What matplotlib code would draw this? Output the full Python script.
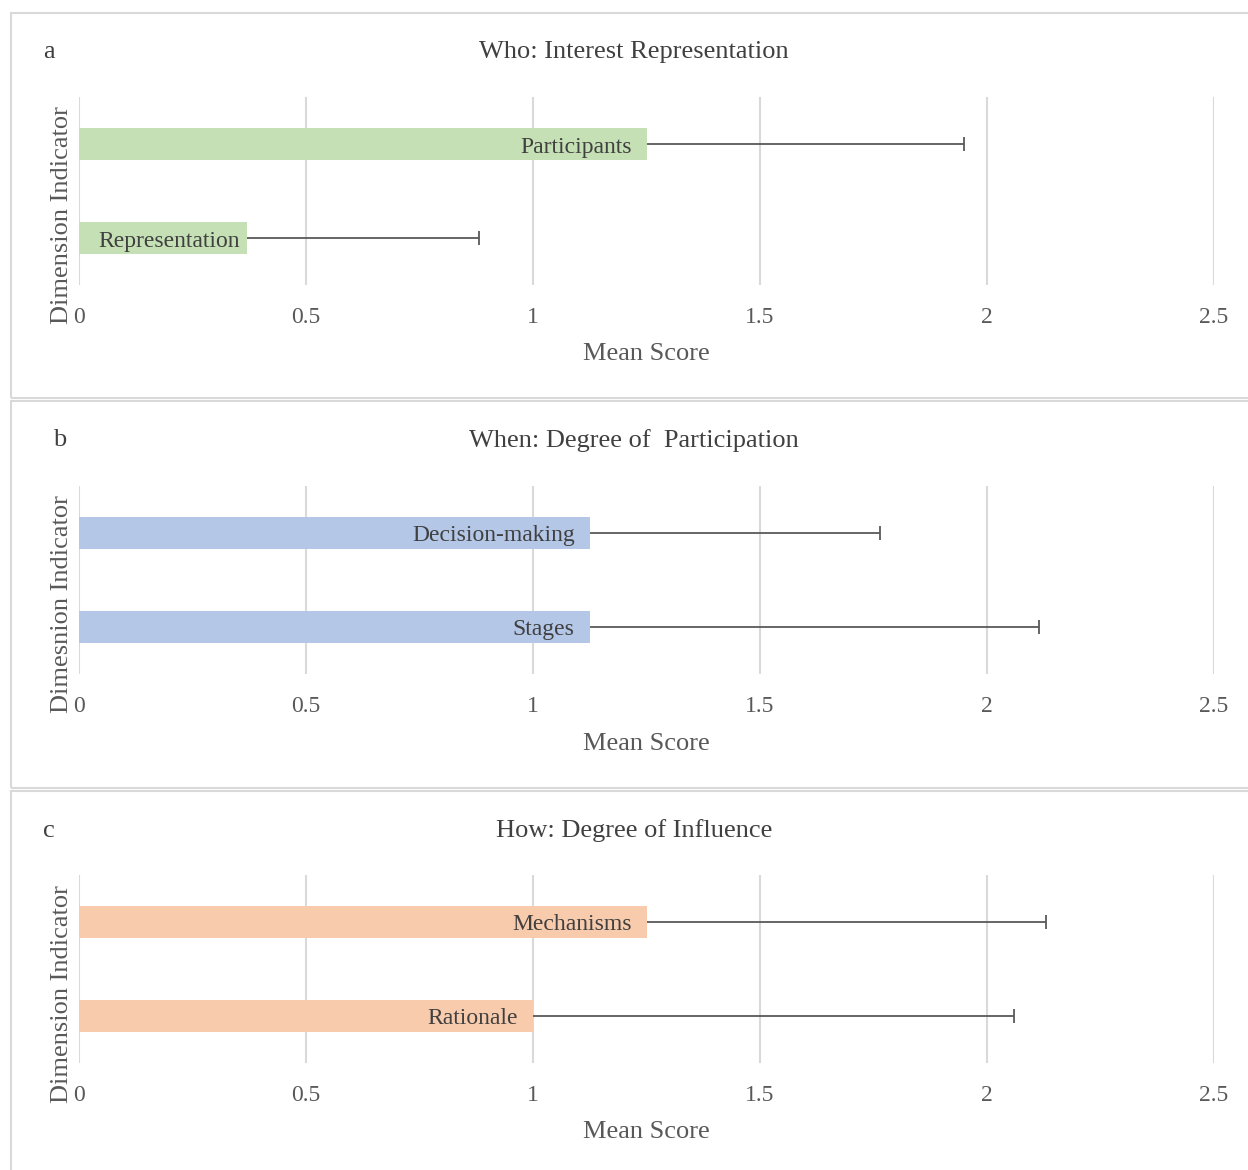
import matplotlib
matplotlib.use("Agg")
import matplotlib.pyplot as plt
from matplotlib.patches import Rectangle
from matplotlib.transforms import offset_copy

plt.rcParams['font.family'] = ['Liberation Serif', 'DejaVu Serif']

# panel data (top bar first)
panel_letters = ["a", "b", "c"]
panel_titles = ["Who: Interest Representation",
                "When: Degree of  Participation",
                "How: Degree of Influence"]
y_labels = ["Dimension Indicator", "Dimesnion Indicator", "Dimension Indicator"]
categories_a = ["Participants", "Representation"]
means_a = [1.25, 0.37]
errors_a = [0.70, 0.51]
categories_b = ["Decision-making", "Stages"]
means_b = [1.125, 1.125]
errors_b = [0.64, 0.99]
categories_c = ["Mechanisms", "Rationale"]
means_c = [1.25, 1.00]
errors_c = [0.88, 1.06]
bar_colors = ["#C5E0B4", "#B4C7E7", "#F8CBAD"]
x_ticks = [0, 0.5, 1, 1.5, 2, 2.5]
x_tick_labels = ["0", "0.5", "1", "1.5", "2", "2.5"]

W, H = 1248, 1170
fig = plt.figure(figsize=(W / 100, H / 100), dpi=100)

def fx(px):
    return px / W

def fy(py):
    return 1 - py / H

# panel frames (top, bottom in pixels), plot areas (top, bottom)
frames = [(13, 398), (401, 788), (791, 1185)]
plot_areas = [(97, 285), (486, 674), (875, 1063)]
letter_pos = [(49, 52), (60, 440), (49, 831)]
title_y = [52, 441, 831]
ylabel_y = [215, 604, 994]

text_dark = "#404040"
text_mid = "#595959"
grid_col = "#D9D9D9"

panels = [(categories_a, means_a, errors_a),
          (categories_b, means_b, errors_b),
          (categories_c, means_c, errors_c)]

axes = []
for i, (cats, means, errs) in enumerate(panels):
    top, bot = frames[i]
    fig.patches.append(Rectangle((fx(11), fy(bot)), fx(1260) - fx(11), fy(top) - fy(bot),
                                 transform=fig.transFigure, fill=False,
                                 edgecolor=grid_col, linewidth=1.5))
    ptop, pbot = plot_areas[i]
    ax = fig.add_axes([fx(79), fy(pbot), fx(1214) - fx(79), fy(ptop) - fy(pbot)])
    ax.set_facecolor("none")
    ypos = list(range(len(cats)))
    ax.barh(ypos, means, height=0.35, color=bar_colors[i], zorder=2)
    # plus-only error bars: line from bar end, cap at the far end
    ends = [m + e for m, e in zip(means, errs)]
    ax.hlines(ypos, means, ends, color=text_mid, linewidth=1.3, zorder=3)
    ax.plot(ends, ypos, linestyle="none", marker="|", markersize=10,
            markeredgewidth=1.3, color=text_mid, zorder=3)
    ax.set_ylim(1.5, -0.5)
    ax.set_xlim(0, 2.5)
    ax.set_xticks(x_ticks)
    ax.set_xticklabels(x_tick_labels)
    ax.set_yticks([])
    ax.grid(axis="x", color=grid_col, linewidth=1.5, zorder=0)
    ax.set_axisbelow(True)
    for s in ax.spines.values():
        s.set_visible(False)
    ax.tick_params(axis="x", length=0, pad=16, labelsize=17, labelcolor=text_mid)
    ax.set_xlabel("Mean Score", fontsize=19, color=text_mid, labelpad=11)
    for yp, m, c in zip(ypos, means, cats):
        tr = offset_copy(ax.transData, fig=fig, x=-15, y=-3, units="dots")
        ax.text(m, yp, c, transform=tr, ha="right", va="center",
                fontsize=17, color=text_dark, zorder=4)
    fig.text(fx(634), fy(title_y[i]), panel_titles[i], ha="center", va="center",
             fontsize=19, color=text_dark)
    lx, ly = letter_pos[i]
    fig.text(fx(lx), fy(ly), panel_letters[i], ha="center", va="center",
             fontsize=19, color=text_dark)
    fig.text(fx(62), fy(ylabel_y[i]), y_labels[i], rotation=90, ha="center",
             va="center", fontsize=19, color=text_mid)
    axes.append(ax)

# keep labels that are too long for their bar inside the bar start
fig.canvas.draw()
renderer = fig.canvas.get_renderer()
for ax in axes:
    x0_px = ax.transData.transform((0, 0))[0]
    for t in ax.texts:
        bb = t.get_window_extent(renderer)
        if bb.x0 < x0_px + 19:
            shift = x0_px + 19 - bb.x0
            t.set_transform(offset_copy(t.get_transform(), fig=fig, x=shift, y=0, units="dots"))

fig.savefig("out.png", dpi=100, facecolor="white")
